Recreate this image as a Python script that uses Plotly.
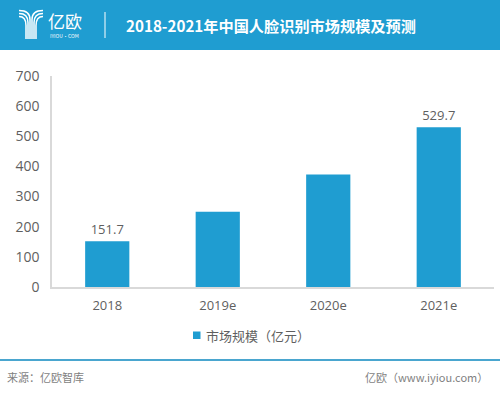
import plotly.graph_objects as go

categories = ["2018", "2019e", "2020e", "2021e"]
values = [151.7, 250, 373, 529.7]
bar_labels = ["151.7", "", "", "529.7"]
series_name = "市场规模（亿元）"
title_text = "2018-2021年中国人脸识别市场规模及预测"
source_text = "来源：亿欧智库"
site_text = "亿欧（www.iyiou.com）"
y_ticks = [0, 100, 200, 300, 400, 500, 600, 700]

W, H = 500, 393
ML, MR, MT, MB = 52, 6, 76, 106
PW = W - ML - MR
PH = H - MT - MB

def px(x):
    return (x - ML) / PW

def py(y):
    return (H - MB - y) / PH

BLUE = "#1f9dd1"
GRAY = "#5f5f5f"
FONT = "Noto Sans CJK SC"

fig = go.Figure()
fig.add_trace(go.Bar(
    x=categories, y=values, name=series_name,
    marker=dict(color=BLUE, line=dict(width=0)),
    text=bar_labels, textposition="outside", cliponaxis=False,
    textfont=dict(color=GRAY, size=13, family="Open Sans"),
    showlegend=False,
))

shapes = []
# header band
shapes.append(dict(type="rect", xref="paper", yref="paper",
                   x0=px(0), x1=px(W), y0=py(0), y1=py(50),
                   fillcolor=BLUE, line=dict(width=0), layer="below"))
# header divider
shapes.append(dict(type="line", xref="paper", yref="paper",
                   x0=px(105), x1=px(105), y0=py(12), y1=py(38),
                   line=dict(color="white", width=1)))
# footer line
shapes.append(dict(type="line", xref="paper", yref="paper",
                   x0=px(0), x1=px(W), y0=py(360), y1=py(360),
                   line=dict(color="#4aa6cf", width=2)))
# legend swatch
shapes.append(dict(type="rect", xref="paper", yref="paper",
                   x0=px(193), x1=px(200.5), y0=py(331.5), y1=py(339),
                   fillcolor=BLUE, line=dict(width=0)))

def P(x, y):
    return f"{px(x):.5f},{py(y):.5f}"

# logo: nested curves forming a Y
for i in range(3):
    y0 = 10.5 + 3 * i
    xl = 30 - 2 * i
    path = f"M {P(19, y0)} Q {P(xl, y0)} {P(xl, y0 + 9)} L {P(xl, 39)}"
    shapes.append(dict(type="path", xref="paper", yref="paper", path=path,
                       line=dict(color="white", width=1.5)))
    xr = 32 + 2 * i
    path = f"M {P(43, y0)} Q {P(xr, y0)} {P(xr, y0 + 9)} L {P(xr, 39)}"
    shapes.append(dict(type="path", xref="paper", yref="paper", path=path,
                       line=dict(color="white", width=1.5)))

annotations = [
    dict(text="亿欧", x=px(46), y=py(20.5), xanchor="left", yanchor="middle",
         xref="paper", yref="paper", showarrow=False,
         font=dict(color="white", size=17, family=FONT)),
    dict(text="IYIOU·COM", x=px(48), y=py(35), xanchor="left", yanchor="middle",
         xref="paper", yref="paper", showarrow=False,
         font=dict(color="white", size=5, family=FONT)),
    dict(text="<b>" + title_text + "</b>", x=px(124), y=py(25), xanchor="left", yanchor="middle",
         xref="paper", yref="paper", showarrow=False,
         font=dict(color="white", size=15.2, family=FONT)),
    dict(text=series_name, x=px(204), y=py(335), xanchor="left", yanchor="middle",
         xref="paper", yref="paper", showarrow=False,
         font=dict(color=GRAY, size=13, family=FONT)),
    dict(text=source_text, x=px(5), y=py(377), xanchor="left", yanchor="middle",
         xref="paper", yref="paper", showarrow=False,
         font=dict(color="#7f7f7f", size=11, family=FONT)),
    dict(text=site_text, x=px(490), y=py(377), xanchor="right", yanchor="middle",
         xref="paper", yref="paper", showarrow=False,
         font=dict(color="#7f7f7f", size=11, family=FONT)),
]

fig.update_layout(
    width=W, height=H,
    margin=dict(l=ML, r=MR, t=MT, b=MB, pad=0, autoexpand=False),
    paper_bgcolor="white", plot_bgcolor="white",
    bargap=0.6, showlegend=False,
    shapes=shapes, annotations=annotations,
    font=dict(family=FONT, color=GRAY, size=13),
    xaxis=dict(showline=True, linecolor="#d9d9d9", linewidth=1.5, ticks="",
               showgrid=False, tickfont=dict(size=13, color=GRAY, family="Open Sans"),
               ticklabelstandoff=6),
    yaxis=dict(range=[0, 700], tickvals=y_ticks, showline=True, linecolor="#d9d9d9",
               linewidth=1.5, showgrid=False, zeroline=False, ticks="",
               tickfont=dict(size=14, color=GRAY, family="Open Sans"), ticklabelstandoff=8),
)

fig.write_html("out.html", config={"displayModeBar": False},
               post_script="document.body.style.margin='0';document.body.style.overflow='hidden';")
